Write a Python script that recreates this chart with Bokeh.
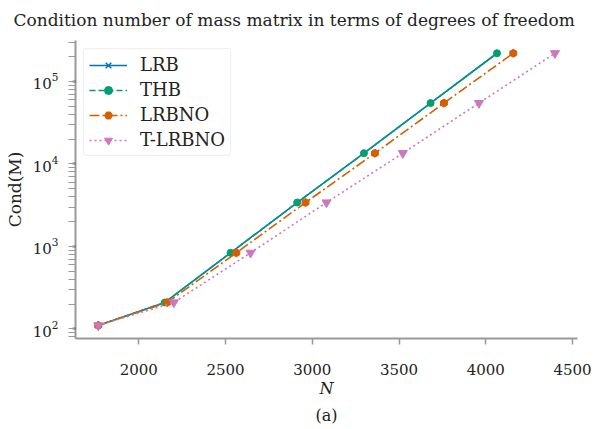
from bokeh.plotting import figure
from bokeh.models import Range1d, LogTicker, FixedTicker, Title
from bokeh.embed import file_html
from bokeh.resources import INLINE

# Data
cond = [110, 209, 836, 3404, 13490, 54700, 220000]
n_lrb = [1766, 2150, 2529, 2913, 3298, 3682, 4065]
n_thb = [1766, 2150, 2529, 2913, 3298, 3682, 4065]
n_lrbno = [1766, 2164, 2562, 2961, 3361, 3759, 4159]
n_tlrbno = [1766, 2202, 2644, 3082, 3522, 3961, 4399]
x_ticks = [2000, 2500, 3000, 3500, 4000, 4500]

FONT = "DejaVu Serif"
TXT = "#222222"
c_blue, c_green, c_orange, c_pink = "#0173b2", "#029e73", "#d55e00", "#cc78bc"

p = figure(width=596, height=429, output_backend="svg", toolbar_location=None,
           y_axis_type="log",
           x_range=Range1d(1635, 4529), y_range=Range1d(76.4, 314000),
           min_border_left=75, min_border_right=19, min_border_top=38, min_border_bottom=91)

p.title.text = "Condition number of mass matrix in terms of degrees of freedom"
p.title.text_font = FONT
p.title.text_font_size = "17px"
p.title.text_font_style = "normal"
p.title.align = "left"
p.title.offset = -62
p.title.standoff = 18
p.title.vertical_align = "top"
p.title.text_color = TXT

p.grid.visible = False
p.outline_line_color = None
p.background_fill_color = "white"

for ax in (p.xaxis[0], p.yaxis[0]):
    ax.axis_line_color = "#999999"
    ax.axis_line_width = 2
    ax.major_label_text_font = FONT
    ax.major_label_text_font_size = "15px"
    ax.major_label_text_color = TXT
    ax.axis_label_text_font = FONT
    ax.axis_label_text_color = TXT

p.xaxis.ticker = FixedTicker(ticks=x_ticks)
p.xaxis.major_tick_line_color = "#999999"
p.xaxis.major_tick_line_width = 1.5
p.xaxis.major_tick_out = 6
p.xaxis.major_tick_in = 0
p.xaxis.minor_tick_line_color = None
p.xaxis.major_label_standoff = 19
p.xaxis.axis_label = "N"
p.xaxis.axis_label_text_font_size = "16px"
p.xaxis.axis_label_text_font_style = "italic"
p.xaxis.axis_label_standoff = 1

p.yaxis.ticker = LogTicker(num_minor_ticks=10)
p.yaxis.major_tick_line_color = "black"
p.yaxis.major_tick_line_width = 1.5
p.yaxis.major_tick_out = 3
p.yaxis.major_tick_in = 0
p.yaxis.minor_tick_line_color = "#999999"
p.yaxis.minor_tick_line_width = 1.2
p.yaxis.minor_tick_out = 7
p.yaxis.minor_tick_in = 0
p.yaxis.major_label_standoff = 10
p.yaxis.axis_label = "Cond(M)"
p.yaxis.axis_label_text_font_size = "17px"
p.yaxis.axis_label_text_font_style = "normal"
p.yaxis.axis_label_standoff = 5

lw = 1.6
p.line(n_lrb, cond, line_color=c_blue, line_width=lw, legend_label="LRB")
p.scatter(n_lrb, cond, marker="x", size=5, line_color=c_blue, line_width=1.5, legend_label="LRB")
p.line(n_thb, cond, line_color=c_green, line_width=lw, line_dash="6 3", legend_label="THB")
p.scatter(n_thb, cond, marker="circle", size=7, fill_color=c_green, line_color=c_green, legend_label="THB")
p.line(n_lrbno, cond, line_color=c_orange, line_width=lw, line_dash="10 3 2 3", legend_label="LRBNO")
p.scatter(n_lrbno, cond, marker="hex", size=8, angle=0.52, fill_color=c_orange, line_color=c_orange, legend_label="LRBNO")
p.line(n_tlrbno, cond, line_color=c_pink, line_width=lw, line_dash="2 3", legend_label="T-LRBNO")
p.scatter(n_tlrbno, cond, marker="inverted_triangle", size=9, fill_color=c_pink, line_color=c_pink, legend_label="T-LRBNO")

leg = p.legend[0]
leg.location = "top_left"
leg.label_text_font = FONT
leg.label_text_font_size = "18px"
leg.label_text_color = TXT
leg.glyph_width = 38
leg.glyph_height = 20
leg.label_height = 20
leg.label_standoff = 13
leg.spacing = 4
leg.padding = 5
leg.margin = 8
leg.border_line_color = "#dddddd"
leg.border_line_width = 1.5
leg.border_radius = 4
leg.background_fill_alpha = 1

p.add_layout(Title(text="(a)", text_font=FONT, text_font_size="16px", text_font_style="normal",
                   align="center", text_color=TXT, standoff=6), "below")

open("out.html", "w").write(file_html(p, INLINE))
